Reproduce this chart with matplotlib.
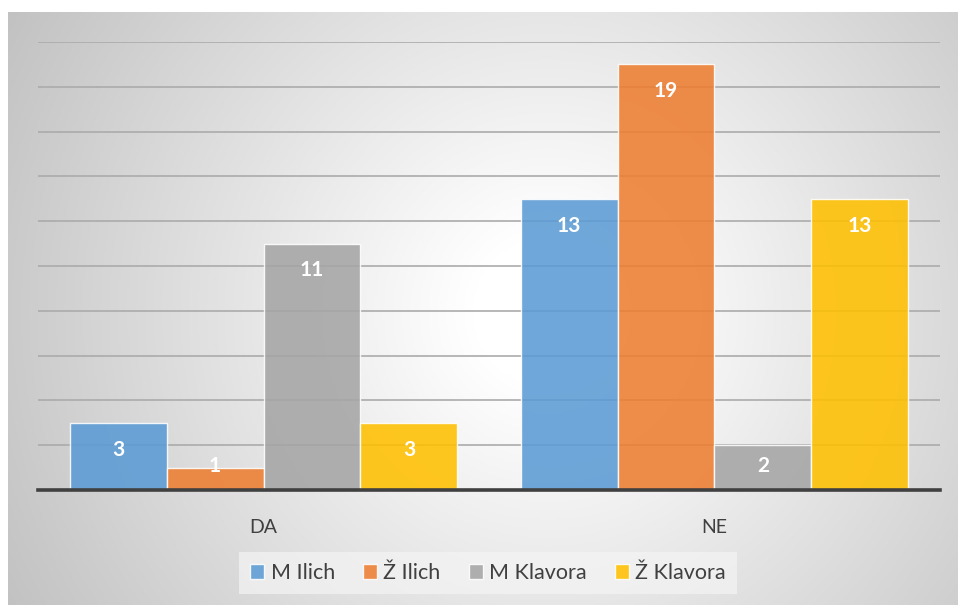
import numpy as np
import matplotlib.pyplot as plt
from matplotlib.colors import LinearSegmentedColormap

categories = ['DA', 'NE']
series = ['M Ilich', 'Ž Ilich', 'M Klavora', 'Ž Klavora']
values = {
    'M Ilich': [3, 13],
    'Ž Ilich': [1, 19],
    'M Klavora': [11, 2],
    'Ž Klavora': [3, 13],
}
colors = ['#5b9bd5', '#ed7d31', '#a5a5a5', '#ffc000']

plt.rcParams['font.family'] = ['Lato', 'DejaVu Sans']

W, H = 959, 605
fig = plt.figure(figsize=(W / 100, H / 100), dpi=100)
fig.patch.set_facecolor('white')

# radial gradient panel behind the chart
bg = fig.add_axes([8 / W, 0, 950 / W, (H - 12) / H])
bg.set_zorder(-1)
gx, gy = np.meshgrid(np.linspace(0, 950, 475), np.linspace(0, 593, 300))
cx, cy = 540, 300
r = np.hypot(gx - cx, gy - cy) / np.hypot(540, 300)
r = np.clip((r - 0.12) / 0.88, 0, 1)
cmap = LinearSegmentedColormap.from_list('bg', ['#ffffff', '#c2c2c2'])
bg.imshow(r, cmap=cmap, vmin=0, vmax=1, aspect='auto', extent=[0, 1, 0, 1],
          interpolation='bilinear')
bg.set_xlim(0, 1)
bg.set_ylim(0, 1)
bg.axis('off')

ax = fig.add_axes([38 / W, 1 - 490 / H, 902 / W, (490 - 42) / H])
ax.set_facecolor('none')

x = np.arange(len(categories))
bw = 0.215
n = len(series)
for i, (name, col) in enumerate(zip(series, colors)):
    vals = values[name]
    pos = x + (i - (n - 1) / 2) * bw
    ax.bar(pos, vals, width=bw, color=col, alpha=0.88, edgecolor=(1, 1, 1, 0.7),
           linewidth=1, label=name, zorder=2)
    for p, v in zip(pos, vals):
        ax.text(p, max(v - 1.2, 1.05), str(v), ha='center', va='center',
                color='white', fontsize=15, fontweight='bold', zorder=3)

ax.set_xlim(-0.5, 1.5)
ax.set_ylim(0, 20)
ax.set_yticks(range(0, 21, 2))
ax.set_yticklabels([])
ax.set_xticks(x)
ax.set_xticklabels(categories, fontsize=14, color='#404040')
ax.tick_params(axis='both', length=0)
ax.tick_params(axis='x', pad=21)
ax.grid(axis='y', color='#ababab', linewidth=1.2, zorder=0)
ax.set_axisbelow(True)
for s in ['top', 'right', 'left']:
    ax.spines[s].set_visible(False)
ax.spines['bottom'].set_color('#404040')
ax.spines['bottom'].set_linewidth(2.6)
ax.spines['bottom'].set_zorder(4)

leg = fig.legend(loc='center', bbox_to_anchor=(488 / W, 1 - 573 / H), ncol=4,
                 fontsize=15.5, frameon=True, fancybox=False, handlelength=0.65,
                 handleheight=0.65, handletextpad=0.3, columnspacing=1.3,
                 borderpad=0.5, labelcolor='#404040')
leg.get_frame().set_facecolor('#f4f4f4')
leg.get_frame().set_alpha(0.7)
leg.get_frame().set_edgecolor('none')

fig.savefig('out.png', dpi=100)
